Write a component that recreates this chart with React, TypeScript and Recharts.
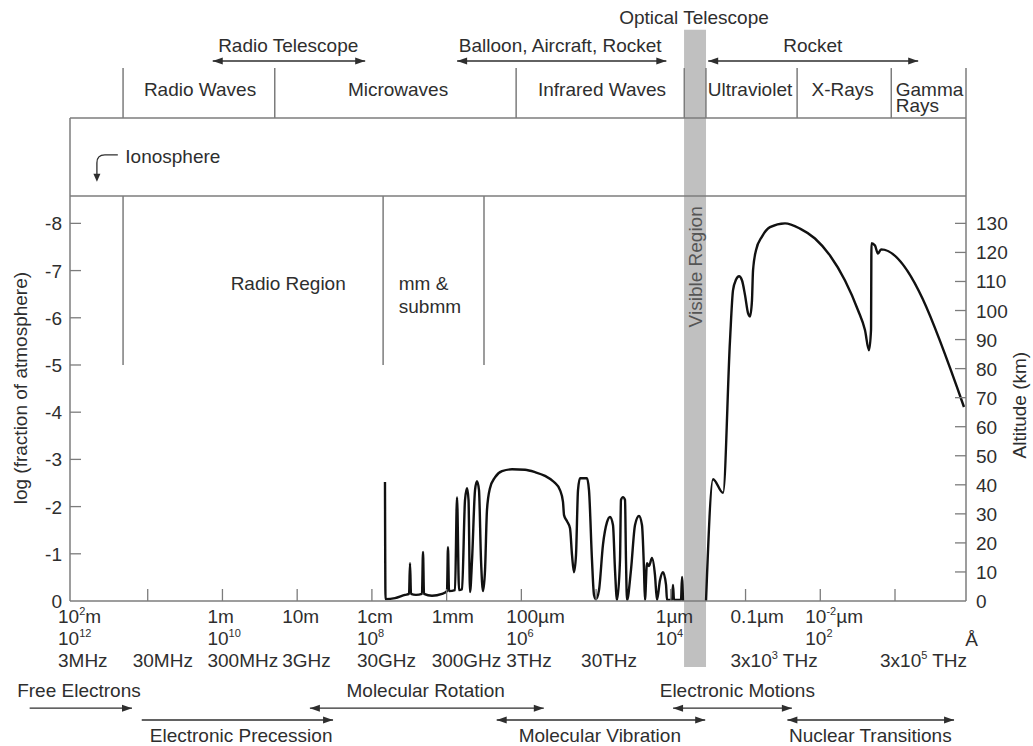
import React from 'react'
import {
  ComposedChart,
  Line,
  XAxis,
  YAxis,
  ReferenceLine,
  ReferenceArea,
  ReferenceDot
} from 'recharts'

// x: -log10(wavelength / m), so 10^2 m sits at -2 and 1 Å at 10
// y: -log(fraction of atmosphere) at the height where the window opens
const curveDecade = [
  2.175, 2.182, 2.309, 2.443, 2.497, 2.51, 2.523, 2.59, 2.67, 2.684, 2.697, 2.804, 2.938,
  3.005, 3.018, 3.032, 3.112, 3.139, 3.166, 3.206, 3.246, 3.273, 3.293, 3.313, 3.34, 3.38,
  3.406, 3.433, 3.46, 3.487, 3.514, 3.54, 3.58, 3.647, 3.741, 3.875, 4.049, 4.183, 4.316,
  4.437, 4.517, 4.557, 4.571, 4.611, 4.651, 4.678, 4.704, 4.731, 4.758, 4.785, 4.878, 4.905,
  4.945, 4.972, 4.999, 5.039, 5.092, 5.146, 5.186, 5.226, 5.253, 5.28, 5.32, 5.333, 5.36,
  5.387, 5.4, 5.414, 5.467, 5.521, 5.574, 5.614, 5.641, 5.654, 5.681, 5.708, 5.748, 5.788,
  5.815, 5.855, 5.895, 5.936, 5.949, 6.016, 6.029, 6.043, 6.136, 6.15, 6.163, 6.471, 6.565,
  6.699, 6.792, 6.832, 6.873, 6.913, 6.953, 6.993, 7.033, 7.06, 7.086, 7.1, 7.14, 7.22,
  7.327, 7.528, 7.729, 7.929, 8.13, 8.331, 8.505, 8.598, 8.652, 8.679, 8.685, 8.732, 8.772,
  8.813, 9.923
]
const curveDepth = [
  2.52, 0.04, 0.06, 0.13, 0.15, 0.8, 0.15, 0.13, 0.15, 1.04, 0.15, 0.11, 0.15,
  0.21, 1.14, 0.21, 0.23, 2.2, 0.23, 0.25, 2.14, 2.39, 2.14, 0.19, 0.87, 2.35,
  2.54, 2.35, 0.87, 0.21, 0.66, 1.93, 2.39, 2.62, 2.75, 2.79, 2.78, 2.73, 2.65,
  2.52, 2.35, 2.1, 1.82, 1.69, 1.54, 0.97, 0.61, 0.97, 2.35, 2.6, 2.6, 2.35,
  0.87, 0.13, 0.04, 0.23, 1.19, 1.67, 1.78, 1.61, 0.66, 0.02, 0.87, 2.14, 2.2,
  2.14, 0.87, 0.02, 0.66, 1.61, 1.8, 1.61, 0.66, 0.02, 0.8, 0.74, 0.91, 0.55,
  0.02, 0.44, 0.61, 0.34, 0.02, 0.02, 0.34, 0.02, 0.02, 0.51, 0, 0, 2.58,
  2.29, 5.52, 6.58, 6.81, 6.88, 6.79, 6.48, 6.1, 6.03, 6.37, 7.0, 7.43, 7.72,
  7.92, 8.0, 7.89, 7.68, 7.32, 6.79, 6.16, 5.74, 5.31, 5.74, 7.58, 7.53, 7.36,
  7.45, 4.11
]

const xTicks = [-2, -1, 0, 1, 2, 3, 4, 5, 6, 7, 8, 9]
const wavelengthLabels = ['10^{2}m', '', '1m', '10m', '1cm', '1mm', '100µm', '', '1µm', '0.1µm', '10^{-2}µm', '']
const angstromLabels = ['10^{12}', '', '10^{10}', '', '10^{8}', '', '10^{6}', '', '10^{4}', '', '10^{2}', '']
const frequencyLabels = ['3MHz', '30MHz', '300MHz', '3GHz', '30GHz', '300GHz', '3THz', '30THz', '', '3x10^{3} THz', '', '3x10^{5} THz']
const logTicks = [0, 1, 2, 3, 4, 5, 6, 7, 8]
const altitudeTicks = [0, 10, 20, 30, 40, 50, 60, 70, 80, 90, 100, 110, 120, 130]

// visible region (grey band)
const visibleFrom = 6.177
const visibleTo = 6.471

// top band
const bandEdges = [-1.33, 0.7, 3.93, 6.18, 6.47, 7.69, 8.95]
const bandNames = ['Radio Waves', 'Microwaves', 'Infrared Waves', 'Ultraviolet', 'X-Rays']
const bandCenters = [-0.3, 2.35, 5.08, 7.06, 8.3]
const regionEdges = [-1.33, 2.15, 3.5]

const platforms = ['Radio Telescope', 'Balloon, Aircraft, Rocket', 'Rocket']
const platformCenters = [0.88, 4.52, 7.9]
const platformFrom = [-0.13, 3.14, 6.5]
const platformTo = [1.91, 5.94, 9.31]

const processes = ['Free Electrons', 'Electronic Precession', 'Molecular Rotation', 'Molecular Vibration', 'Electronic Motions', 'Nuclear Transitions']
const processCenters = [-1.92, 0.25, 2.72, 5.05, 6.89, 8.67]
const processFrom = [-2.58, -1.08, 1.17, 3.67, 6.03, 7.56]
const processTo = [-1.21, 1.48, 4.3, 6.46, 7.62, 9.79]
const processRow = [0, 1, 0, 1, 0, 1]
const processBoth = [false, false, true, true, true, true]

const X_MIN = -2.04
const X_MAX = 9.95
const Y_MAX = 8.58
const KM_PER_UNIT = 16.25

const FONT = '"Liberation Sans", Arial, Helvetica, sans-serif'
const INK = '#2e2e2e'
const FRAME = '#7c7c7c'

const data = curveDecade.map((d, i) => ({
  d,
  ir: d <= visibleFrom ? curveDepth[i] : null,
  uv: d >= visibleTo ? curveDepth[i] : null,
  km: curveDepth[i] * KM_PER_UNIT
}))

function withSup(s: string) {
  const parts = s.split(/\^\{([^}]*)\}/)
  return parts.map((p, i) =>
    i % 2 === 1 ? (
      <tspan key={i} fontSize={11} dy={-8}>{p}</tspan>
    ) : (
      <tspan key={i} dy={i > 0 ? 8 : 0}>{p}</tspan>
    )
  )
}

function DecadeTick(props: any) {
  const { x, y, payload } = props
  const i = xTicks.indexOf(payload.value)
  const rows = [wavelengthLabels[i], angstromLabels[i], frequencyLabels[i]]
  return (
    <g>
      {i > 0 && <line x1={x} y1={y} x2={x} y2={y - 12} stroke={FRAME} strokeWidth={1.3} />}
      {rows.map((s, r) =>
        s ? (
          <text key={r} x={x - 15} y={y + 22 + r * 22} fontSize={19} fill={INK} fontFamily={FONT}>
            {withSup(s)}
          </text>
        ) : null
      )}
    </g>
  )
}

function LogTick(props: any) {
  const { x, y, payload } = props
  return (
    <g>
      {payload.value > 0 && <line x1={x} y1={y} x2={x + 11} y2={y} stroke={FRAME} strokeWidth={1.3} />}
      <text x={x - 8} y={y + 7} textAnchor="end" fontSize={19} fill={INK} fontFamily={FONT}>
        {payload.value === 0 ? '0' : `-${payload.value}`}
      </text>
    </g>
  )
}

function AltTick(props: any) {
  const { x, y, payload } = props
  return (
    <g>
      {payload.value > 0 && <line x1={x} y1={y} x2={x - 11} y2={y} stroke={FRAME} strokeWidth={1.3} />}
      <text x={x + 10} y={y + 7} fontSize={19} fill={INK} fontFamily={FONT}>
        {payload.value}
      </text>
    </g>
  )
}

const arrowShape = (both: boolean) => (p: any) => {
  const { x1, y1, x2, y2 } = p
  return (
    <g>
      <line x1={x1} y1={y1} x2={x2} y2={y2} stroke={INK} strokeWidth={1.4} />
      <polygon points={`${x2},${y2} ${x2 - 10},${y2 - 3.5} ${x2 - 10},${y2 + 3.5}`} fill={INK} />
      {both && <polygon points={`${x1},${y1} ${x1 + 10},${y1 - 3.5} ${x1 + 10},${y1 + 3.5}`} fill={INK} />}
    </g>
  )
}

const hookShape = (p: any) => {
  const { x1, y1, x2, y2 } = p
  return (
    <g>
      <path d={`M${x1},${y1} L${x2 + 8},${y1} Q${x2},${y1} ${x2},${y1 + 8} L${x2},${y2 - 6}`} fill="none" stroke={INK} strokeWidth={1.3} />
      <polygon points={`${x2},${y2} ${x2 - 3.5},${y2 - 8} ${x2 + 3.5},${y2 - 8}`} fill={INK} />
    </g>
  )
}

function seg(key: string, xa: number, ya: number, xb: number, yb: number, shape?: any) {
  return (
    <ReferenceLine
      key={key}
      yAxisId="log"
      segment={[{ x: xa, y: ya }, { x: xb, y: yb }]}
      ifOverflow="visible"
      stroke={FRAME}
      strokeWidth={1.5}
      shape={shape}
    />
  )
}

function label(key: string, x: number, y: number, text: string, extra: any = {}) {
  return (
    <ReferenceDot
      key={key}
      yAxisId="log"
      x={x}
      y={y}
      r={0}
      ifOverflow="visible"
      shape={(p: any) => (
        <text
          x={p.cx}
          y={p.cy}
          fontSize={19}
          fill={INK}
          fontFamily={FONT}
          textAnchor="middle"
          transform={extra.rotate ? `rotate(-90 ${p.cx} ${p.cy})` : undefined}
          {...extra.attrs}
        >
          {text}
        </text>
      )}
    />
  )
}

export default function App() {
  return (
    <div style={{ position: 'absolute', left: 0, top: 0, width: 1033, height: 746, background: '#fff' }}>
      <ComposedChart
        width={1033}
        height={746}
        data={data}
        margin={{ top: 196, right: 7, bottom: 45, left: 10 }}
      >
        <ReferenceArea
          yAxisId="log"
          x1={visibleFrom}
          x2={visibleTo}
          y1={-1.4}
          y2={12.1}
          ifOverflow="visible"
          fill="#c0c0c0"
          fillOpacity={1}
          stroke="none"
        />
        <XAxis
          dataKey="d"
          type="number"
          domain={[X_MIN, X_MAX]}
          ticks={xTicks}
          interval={0}
          tick={<DecadeTick />}
          tickLine={false}
          tickSize={0}
          tickMargin={0}
          height={100}
          axisLine={{ stroke: FRAME, strokeWidth: 1.5 }}
        />
        <YAxis
          yAxisId="log"
          type="number"
          domain={[0, Y_MAX]}
          allowDataOverflow
          ticks={logTicks}
          interval={0}
          tick={<LogTick />}
          tickLine={false}
          tickSize={0}
          tickMargin={0}
          width={60}
          axisLine={{ stroke: FRAME, strokeWidth: 1.5 }}
        />
        <YAxis
          yAxisId="alt"
          orientation="right"
          type="number"
          domain={[0, Y_MAX * KM_PER_UNIT]}
          allowDataOverflow
          ticks={altitudeTicks}
          interval={0}
          tick={<AltTick />}
          tickLine={false}
          tickSize={0}
          tickMargin={0}
          width={60}
          axisLine={{ stroke: FRAME, strokeWidth: 1.5 }}
        />
        {/* altitude twin of the same curve, only there to give the right axis its scale */}
        <Line
          yAxisId="alt"
          dataKey="km"
          type="monotoneX"
          stroke="none"
          strokeWidth={0}
          dot={false}
          activeDot={false}
          isAnimationActive={false}
        />
        <Line
          yAxisId="log"
          dataKey="ir"
          type="monotoneX"
          stroke="#111"
          strokeWidth={2.4}
          dot={false}
          activeDot={false}
          isAnimationActive={false}
        />
        <Line
          yAxisId="log"
          dataKey="uv"
          type="monotoneX"
          stroke="#111"
          strokeWidth={2.4}
          dot={false}
          activeDot={false}
          isAnimationActive={false}
        />

        {/* frame of the upper boxes */}
        {seg('top', X_MIN, Y_MAX, X_MAX, Y_MAX)}
        {seg('band-bottom', X_MIN, 10.23, X_MAX, 10.23)}
        {seg('left-up', X_MIN, Y_MAX, X_MIN, 10.23)}
        {seg('right-up', X_MAX, Y_MAX, X_MAX, 11.29)}
        {bandEdges.map((e, i) => seg(`be${i}`, e, 10.23, e, 11.29))}
        {regionEdges.map((e, i) => seg(`re${i}`, e, Y_MAX, e, 5))}

        {bandNames.map((n, i) => label(`bn${i}`, bandCenters[i], 10.7, n))}
        {label('gamma', 9.01, 10.7, 'Gamma', { attrs: { textAnchor: 'start' } })}
        {label('rays', 9.01, 10.36, 'Rays', { attrs: { textAnchor: 'start' } })}

        {platforms.map((n, i) => label(`pl${i}`, platformCenters[i], 11.63, n))}
        {platforms.map((n, i) => seg(`pa${i}`, platformFrom[i], 11.44, platformTo[i], 11.44, arrowShape(true)))}
        {label('optical', 6.31, 12.22, 'Optical Telescope')}

        {label('iono', -1.3, 9.28, 'Ionosphere', { attrs: { textAnchor: 'start' } })}
        {seg('iono-arrow', -1.4, 9.45, -1.68, 8.88, hookShape)}

        {label('radio-region', 0.88, 6.59, 'Radio Region')}
        {label('mm', 2.36, 6.59, 'mm &', { attrs: { textAnchor: 'start' } })}
        {label('submm', 2.36, 6.1, 'submm', { attrs: { textAnchor: 'start' } })}
        {label('visible', 6.32, 7.08, 'Visible Region', { rotate: true, attrs: { fill: '#555', dy: 7 } })}

        {label('ylab', -2.71, 4.51, 'log (fraction of atmosphere)', { rotate: true, attrs: { dy: 7 } })}
        {label('y2lab', 10.66, 4.15, 'Altitude (km)', { rotate: true, attrs: { dy: 7 } })}
        {label('angstrom', 9.94, -0.956, 'Å', { attrs: { textAnchor: 'start' } })}

        {processes.map((n, i) =>
          label(`pr${i}`, processCenters[i], processRow[i] === 0 ? -2.03 : -2.99, n)
        )}
        {processes.map((n, i) =>
          seg(
            `pra${i}`,
            processFrom[i],
            processRow[i] === 0 ? -2.27 : -2.52,
            processTo[i],
            processRow[i] === 0 ? -2.27 : -2.52,
            arrowShape(processBoth[i])
          )
        )}
      </ComposedChart>
    </div>
  )
}
